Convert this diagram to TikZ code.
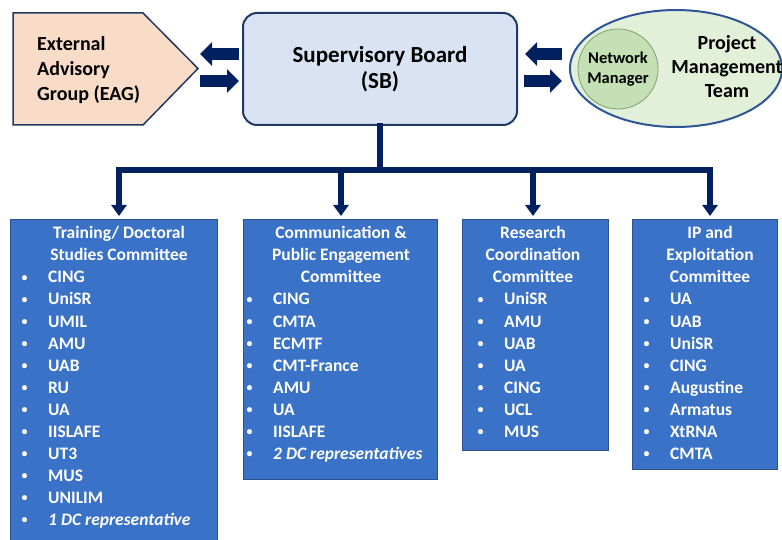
\documentclass[tikz,border=0pt]{standalone}
\usepackage{fontspec}
\setmainfont{Carlito}
\usetikzlibrary{shapes.geometric,arrows.meta,calc}

\definecolor{navy}{HTML}{002060}
\definecolor{sbfill}{HTML}{DAE3F3}
\definecolor{sbline}{HTML}{203864}
\definecolor{eagfill}{HTML}{F9DCC8}
\definecolor{pmtfill}{HTML}{E2F0D9}
\definecolor{pmtline}{HTML}{2F5597}
\definecolor{nmfill}{HTML}{C5E0B4}
\definecolor{nmline}{HTML}{7F9F74}
\definecolor{comfill}{HTML}{3A72C8}
\definecolor{comline}{HTML}{2F528F}

\tikzset{
    board/.style={draw=sbline, line width=2pt, fill=sbfill, rounded corners=14pt,
        minimum width=274pt, minimum height=112pt, align=center,
        font=\bfseries\fontsize{23}{26}\selectfont},
    eagbox/.style={draw=sbline, line width=1.5pt, fill=eagfill},
    eagtext/.style={align=left, inner sep=0pt, font=\bfseries\fontsize{20}{25}\selectfont},
    team/.style={ellipse, draw=pmtline, line width=2pt, fill=pmtfill,
        minimum width=212pt, minimum height=117pt},
    manager/.style={circle, draw=nmline, line width=0.8pt, fill=nmfill, minimum size=80pt,
        inner sep=0pt, align=center, font=\bfseries\fontsize{16.5}{20}\selectfont},
    teamtext/.style={align=center, inner sep=0pt, font=\bfseries\fontsize{20}{24}\selectfont},
    blockarrow/.style={navy, line width=12pt, -{Triangle[width=23pt,length=12pt]}},
    trunk/.style={navy, line width=5.5pt, line cap=rect},
    branch/.style={navy, line width=5.5pt, -{Triangle[width=15pt,length=11pt]}},
    combox/.style={draw=comline, line width=0.8pt, fill=comfill, anchor=north west, inner sep=0pt},
    comhead/.style={anchor=base, inner sep=0pt, text=white, font=\bfseries\fontsize{17.5}{22}\selectfont},
    member/.style={anchor=base west, inner sep=0pt, text=white, font=\bfseries\fontsize{17.5}{22}\selectfont},
}
\newcommand{\bul}{\llap{\raisebox{1.5pt}{\fontsize{12}{12}\selectfont\textbullet}\hspace{20.5pt}}}

\begin{document}
\begin{tikzpicture}[x=1pt, y=-1pt]
        \useasboundingbox[fill=white] (0,0) rectangle (782,540);

        % Top row
        \draw[eagbox] (13,13) -- (143,13) -- (198,68.5) coordinate (eagtip)
            -- (143,125) -- (13,125) -- cycle;
        \node[eagtext, anchor=north west] (eag) at (37,36) {External\\Advisory\\Group (EAG)};

        \node[board] (sb) at (380,69) {Supervisory Board\\(SB)};

        \node[team] (pmt) at (676,68.5) {};
        \node[manager] (nm) at (618,69) {Network\\Manager};
        \node[teamtext] (pmtname) at (727,67) {Project\\Management\\Team};

        \draw[blockarrow] ($(sb.west)+(-3,-15)$) -- ($(eagtip)+(2,-14.5)$);
        \draw[blockarrow] ($(eagtip)+(2,12.5)$) -- ($(sb.west)+(-3,12)$);
        \draw[blockarrow] ($(pmt.west)+(-7,-14.5)$) -- ($(sb.east)+(7,-15)$);
        \draw[blockarrow] ($(sb.east)+(6,12)$) -- ($(pmt.west)+(-7,12.5)$);

        % Committees
        \node[combox, minimum width=207pt, minimum height=335pt] (c1) at (10,219) {};
        \node[combox, minimum width=194pt, minimum height=260pt] (c2) at (243,219) {};
        \node[combox, minimum width=146pt, minimum height=231pt] (c3) at (462,219) {};
        \node[combox, minimum width=145pt, minimum height=250pt] (c4) at (632,219) {};

        \foreach \t [count=\i] in {Training/ Doctoral, Studies Committee}
            \node[comhead] (h1-\i) at (119,217+22*\i) {\t};
        \foreach \m [count=\i] in {CING, UniSR, UMIL, AMU, UAB, RU, UA, IISLAFE, UT3, MUS, UNILIM,
            \textit{1 DC representative}}
            \node[member] (m1-\i) at (48,261+22*\i) {\bul\m};

        \foreach \t [count=\i] in {Communication \&, Public Engagement, Committee}
            \node[comhead] (h2-\i) at (341,217+22*\i) {\t};
        \foreach \m [count=\i] in {CING, CMTA, ECMTF, CMT-France, AMU, UA, IISLAFE,
            \textit{2 DC representatives}}
            \node[member] (m2-\i) at (273,283+22*\i) {\bul\m};

        \foreach \t [count=\i] in {Research, Coordination, Committee}
            \node[comhead] (h3-\i) at (533,217+22*\i) {\t};
        \foreach \m [count=\i] in {UniSR, AMU, UAB, UA, CING, UCL, MUS}
            \node[member] (m3-\i) at (504,283+22*\i) {\bul\m};

        \foreach \t [count=\i] in {IP and, Exploitation, Committee}
            \node[comhead] (h4-\i) at (710,217+22*\i) {\t};
        \foreach \m [count=\i] in {UA, UAB, UniSR, CING, Augustine, Armatus, XtRNA, CMTA}
            \node[member] (m4-\i) at (670,283+22*\i) {\bul\m};

        % Tree
        \draw[trunk] (sb.south) -- (sb.south |- 0,170) coordinate (hub);
        \draw[trunk] (h1-1 |- hub) -- (h4-1 |- hub);
        \foreach \k in {1,...,4}
            \draw[branch] (h\k-1 |- hub) -- ([yshift=3pt]h\k-1 |- c\k.north);

\end{tikzpicture}
\end{document}
